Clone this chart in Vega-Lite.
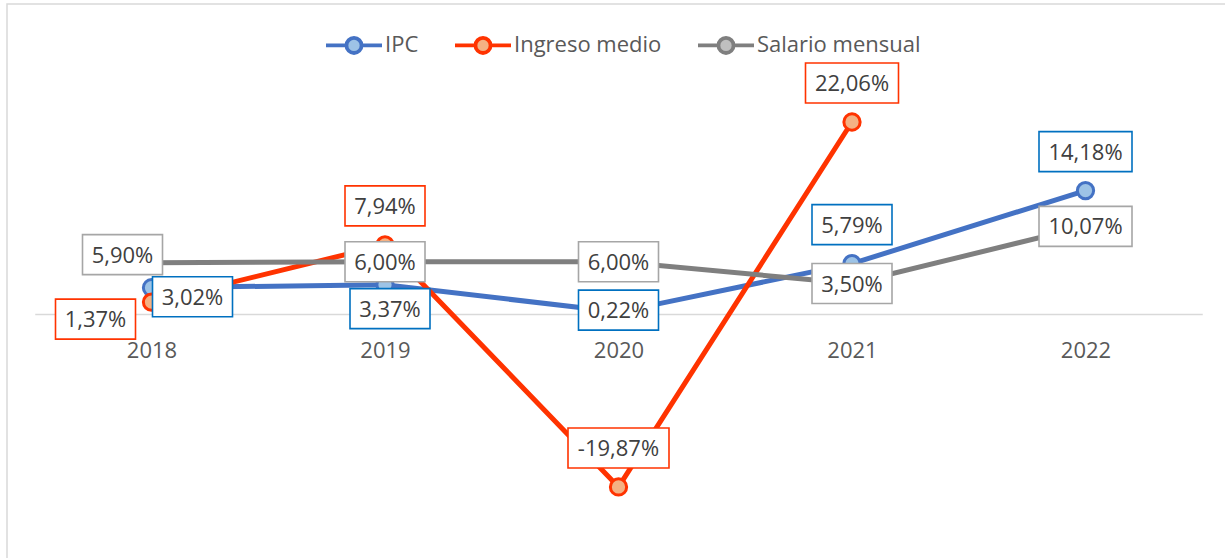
{
  "$schema": "https://vega.github.io/schema/vega-lite/v6.json",
  "width": 1218,
  "height": 554,
  "autosize": {"type": "none"},
  "padding": {"left": 7, "top": 4, "right": 0, "bottom": 0},
  "background": "white",
  "config": {
    "locale": {"number": {"decimal": ",", "thousands": ".", "grouping": [3], "currency": ["", " €"], "minus": "-"}},
    "view": {"stroke": "#D9D9D9", "strokeWidth": 1.5, "strokeDash": [1218, 1772, 554]},
    "font": "Open Sans"
  },
  "data": {
    "values": [
      {"year": "2018", "s": "IPC", "v": 0.0302},
      {"year": "2019", "s": "IPC", "v": 0.0337},
      {"year": "2020", "s": "IPC", "v": 0.0022},
      {"year": "2021", "s": "IPC", "v": 0.0579},
      {"year": "2022", "s": "IPC", "v": 0.1418},
      {"year": "2018", "s": "Ingreso medio", "v": 0.0137},
      {"year": "2019", "s": "Ingreso medio", "v": 0.0794},
      {"year": "2020", "s": "Ingreso medio", "v": -0.1987},
      {"year": "2021", "s": "Ingreso medio", "v": 0.2206},
      {"year": "2018", "s": "Salario mensual", "v": 0.059},
      {"year": "2019", "s": "Salario mensual", "v": 0.06},
      {"year": "2020", "s": "Salario mensual", "v": 0.06},
      {"year": "2021", "s": "Salario mensual", "v": 0.035},
      {"year": "2022", "s": "Salario mensual", "v": 0.1007}
    ]
  },
  "encoding": {
    "x": {
      "field": "year", "type": "ordinal",
      "scale": {"type": "point", "range": [27.75, 1195.25], "padding": 0.5},
      "axis": {"title": null, "domainColor": "#D9D9D9", "domainWidth": 1.5, "ticks": false, "tickSize": 0, "labelPadding": 26, "labelFontSize": 22, "labelColor": "#595959", "labelFont": "Open Sans", "labelAngle": 0, "offset": -244, "grid": false}
    },
    "y": {
      "field": "v", "type": "quantitative",
      "scale": {"domain": [-0.26, 0.28], "range": [536.3, 66.3], "nice": false, "zero": false},
      "axis": null
    }
  },
  "layer": [
    {
      "mark": {"type": "line", "strokeWidth": 5},
      "encoding": {
        "stroke": {
          "field": "s", "type": "nominal",
          "scale": {"domain": ["IPC", "Ingreso medio", "Salario mensual"], "range": ["#4472C4", "#FF3300", "#7F7F7F"]},
          "legend": {"orient": "none", "direction": "horizontal", "legendX": 317, "legendY": 11, "title": null, "symbolType": "M-1,0L-0.27,0M0.27,0L1,0M0.27,0A0.27,0.27,0,1,1,-0.27,0A0.27,0.27,0,1,1,0.27,0Z", "symbolSize": 3136, "symbolStrokeWidth": 3.8, "labelFontSize": 22, "labelColor": "#595959", "labelFont": "Open Sans", "labelLimit": 400, "columnPadding": 28, "labelOffset": 1, "padding": 0}
        }
      }
    },
    {
      "mark": {"type": "point", "filled": true, "size": 265, "strokeWidth": 3, "opacity": 1},
      "encoding": {
        "stroke": {"field": "s", "type": "nominal"},
        "fill": {
          "field": "s", "type": "nominal",
          "scale": {"domain": ["IPC", "Ingreso medio", "Salario mensual"], "range": ["#9DC3E6", "#F4B183", "#BFBFBF"]},
          "legend": {"orient": "none", "direction": "horizontal", "legendX": 317, "legendY": 11, "title": null, "symbolType": "M-1,0L-0.27,0M0.27,0L1,0M0.27,0A0.27,0.27,0,1,1,-0.27,0A0.27,0.27,0,1,1,0.27,0Z", "symbolSize": 3136, "symbolStrokeWidth": 3.8, "labelFontSize": 22, "labelColor": "#595959", "labelFont": "Open Sans", "labelLimit": 400, "columnPadding": 28, "labelOffset": 1, "padding": 0}
        }
      }
    },
    {
      "mark": {
        "type": "point", "filled": false, "fill": "white", "fillOpacity": 1, "opacity": 1, "strokeWidth": 1.6,
        "stroke": {"expr": "datum.s=='IPC'?'#0070C0':datum.s=='Ingreso medio'?'#FF3300':'#A6A6A6'"},
        "shape": {"expr": "abs(datum.v)<0.1?'M-1,-0.5L1,-0.5L1,0.5L-1,0.5Z':datum.v>0?'M-1,-0.43L1,-0.43L1,0.43L-1,0.43Z':'M-1,-0.396L1,-0.396L1,0.396L-1,0.396Z'"},
        "size": {"expr": "abs(datum.v)<0.1?6400:datum.v>0?8649:10201"},
        "xOffset": {"expr": "(datum.s=='IPC'&&datum.year=='2018')?41:(datum.s=='IPC'&&datum.year=='2019')?5:(datum.s=='Ingreso medio'&&datum.year=='2018')?-56:(datum.s=='Salario mensual'&&datum.year=='2018')?-29:0"},
        "yOffset": {"expr": "(datum.s=='IPC'&&datum.year=='2018')?9:(datum.s=='IPC'&&datum.year=='2019')?24:(datum.s=='IPC'&&datum.year=='2020')?-2:(datum.s=='Ingreso medio'&&datum.year=='2018')?17:(datum.s=='Salario mensual'&&datum.year=='2018')?-8:datum.s=='Salario mensual'?0:-39"}
      }
    },
    {
      "mark": {
        "type": "text", "fontSize": 22, "font": "Open Sans", "color": "#404040", "align": "center", "baseline": "middle", "dy": 1,
        "xOffset": {"expr": "(datum.s=='IPC'&&datum.year=='2018')?41:(datum.s=='IPC'&&datum.year=='2019')?5:(datum.s=='Ingreso medio'&&datum.year=='2018')?-56:(datum.s=='Salario mensual'&&datum.year=='2018')?-29:0"},
        "yOffset": {"expr": "(datum.s=='IPC'&&datum.year=='2018')?9:(datum.s=='IPC'&&datum.year=='2019')?24:(datum.s=='IPC'&&datum.year=='2020')?-2:(datum.s=='Ingreso medio'&&datum.year=='2018')?17:(datum.s=='Salario mensual'&&datum.year=='2018')?-8:datum.s=='Salario mensual'?0:-39"}
      },
      "encoding": {
        "text": {"field": "v", "type": "quantitative", "format": ".2%"}
      }
    }
  ]
}
